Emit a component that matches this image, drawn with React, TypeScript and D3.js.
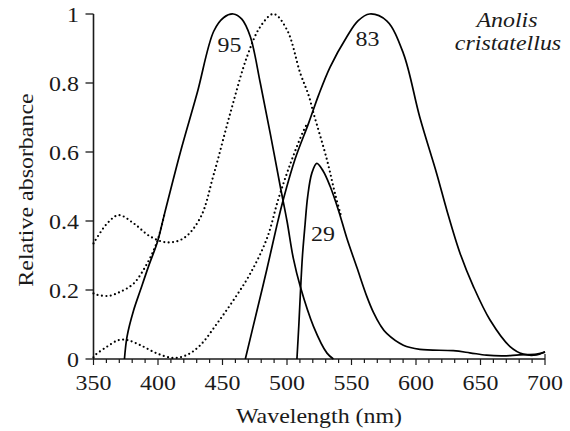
import React from "react";
import * as d3 from "d3";

// Wavelength (nm) / relative absorbance pairs
const curve95: [number, number][] = [
  [374, 0], [376, 0.065], [381, 0.14], [386.4, 0.2], [392.8, 0.27], [399.6, 0.34],
  [405, 0.42], [417.4, 0.6], [430.3, 0.77], [443.2, 0.95], [451, 0.99], [458.4, 1.0],
  [465, 0.985], [471.6, 0.934], [479.3, 0.8], [487, 0.654], [494.8, 0.5], [500, 0.4],
  [505, 0.29], [510.3, 0.21], [520.6, 0.094], [531, 0.017], [536, 0],
];
const curve83: [number, number][] = [
  [467.7, 0], [476.7, 0.14], [484.4, 0.26], [492.2, 0.388], [497.4, 0.466], [506.4, 0.581],
  [516.7, 0.683], [524.5, 0.765], [533.5, 0.847], [546.4, 0.934], [555, 0.98], [564, 1.0],
  [577.3, 0.98], [590.2, 0.886], [603, 0.7], [616, 0.538], [624, 0.43], [634.2, 0.306],
  [644.5, 0.21], [657.4, 0.113], [672.9, 0.036], [683.2, 0.014], [693.5, 0.012], [700, 0.021],
];
const curve29: [number, number][] = [
  [507.7, 0], [509.2, 0.1], [510.5, 0.2], [512, 0.3], [514, 0.39], [516, 0.47],
  [519.2, 0.538], [523.1, 0.567], [528, 0.545], [533.5, 0.5], [540, 0.43], [546.4, 0.35],
  [554.2, 0.265], [562, 0.18], [567, 0.135], [572.2, 0.099], [577.3, 0.074], [590.2, 0.04],
  [603, 0.028], [628.8, 0.024], [641.7, 0.018], [654.6, 0.011], [667.5, 0.009],
  [680, 0.012], [693.5, 0.014], [700, 0.02],
];
const dottedA: [number, number][] = [
  [350, 0.335], [360.6, 0.393], [369.6, 0.417], [381.2, 0.393], [394, 0.355], [407, 0.338],
  [419.9, 0.35], [432.9, 0.41], [443.2, 0.535], [456, 0.712], [469, 0.876], [479.3, 0.963],
  [489.6, 1.0], [500, 0.954], [510.3, 0.828], [516.7, 0.765], [520.6, 0.712], [531, 0.577],
  [537.5, 0.475], [541.5, 0.42],
];
const dottedB: [number, number][] = [
  [350, 0.19], [352.8, 0.186], [361.9, 0.183], [370.9, 0.195], [381.2, 0.219],
  [391.6, 0.277], [399.3, 0.34], [405, 0.42],
];
const dottedC: [number, number][] = [
  [350, 0.005], [351.5, 0.012], [360.6, 0.036], [369.6, 0.055], [376, 0.055], [386.4, 0.04],
  [399.3, 0.016], [412.2, 0.003], [422.6, 0.012], [432.8, 0.04], [445.8, 0.103],
  [458.6, 0.171], [471.6, 0.248], [484.5, 0.35], [493.5, 0.466], [503, 0.57], [512, 0.655],
  [516, 0.685],
];

const xTicks = [350, 400, 450, 500, 550, 600, 650, 700];
const xMinorTicks = d3.range(350, 701, 10);
const yTicks = [0, 0.2, 0.4, 0.6, 0.8, 1];
const yTickLabels = ["0", "0.2", "0.4", "0.6", "0.8", "1"];

const curveLabels = ["95", "83", "29"];
const speciesLines = ["Anolis", "cristatellus"];

const FONT = "Liberation Serif, Tinos, Times New Roman, Times, serif";
const SX = 1.14;
const INK = "#1a1a1a";

export default function App() {
  const x = d3.scaleLinear().domain([350, 700]).range([93.5, 545]);
  const y = d3.scaleLinear().domain([0, 1]).range([359, 14]);
  const line = d3
    .line<[number, number]>()
    .x((d) => x(d[0]))
    .y((d) => y(d[1]))
    .curve(d3.curveCatmullRom.alpha(0.5));

  const solid = [curve95, curve83, curve29];
  const dotted = [dottedA, dottedB, dottedC];
  const labelPos = [
    [229.5, 51.5],
    [367.5, 45.5],
    [323, 240.5],
  ];
  const speciesPos = [
    [507, 27],
    [508, 50],
  ];

  return (
    <svg
      width={570}
      height={431}
      style={{ position: "absolute", left: 0, top: 0, display: "block", fontFamily: FONT }}
    >
      {/* axes */}
      <line x1={x(350)} x2={x(700)} y1={y(0)} y2={y(0)} stroke={INK} strokeWidth={1.6} />
      <line x1={x(350)} x2={x(350)} y1={y(0)} y2={y(1)} stroke={INK} strokeWidth={1.6} />
      {xMinorTicks.map((t) => {
        const major = t % 50 === 0;
        return (
          <line
            key={"xt" + t}
            x1={x(t)}
            x2={x(t)}
            y1={t === 700 ? y(0) - 5 : y(0)}
            y2={y(0) + (major ? 6 : 4)}
            stroke={INK}
            strokeWidth={1.2}
          />
        );
      })}
      {yTicks.map((t) => (
        <line key={"yt" + t} x1={x(350) - 8} x2={x(350)} y1={y(t)} y2={y(t)} stroke={INK} strokeWidth={1.3} />
      ))}
      {xTicks.map((t) => (
        <text
          key={"xl" + t}
          transform={`translate(${x(t)},390) scale(${SX},1)`}
          textAnchor="middle"
          fontSize={21}
          fill={INK}
        >
          {t}
        </text>
      ))}
      {yTicks.map((t, i) => (
        <text
          key={"yl" + t}
          transform={`translate(79,${y(t) + 7.5}) scale(${SX},1)`}
          textAnchor="end"
          fontSize={21}
          fill={INK}
        >
          {yTickLabels[i]}
        </text>
      ))}
      <text transform={`translate(319,423) scale(${SX},1)`} textAnchor="middle" fontSize={21} fill={INK}>
        Wavelength (nm)
      </text>
      <text
        transform={`translate(33,190) rotate(-90) scale(${SX},1)`}
        textAnchor="middle"
        fontSize={21}
        fill={INK}
      >
        Relative absorbance
      </text>

      {/* curves */}
      {dotted.map((d, i) => (
        <path
          key={"d" + i}
          d={line(d) || ""}
          fill="none"
          stroke="#000"
          strokeWidth={2.2}
          strokeLinecap="round"
          strokeDasharray="0,4.4"
        />
      ))}
      {solid.map((d, i) => (
        <path key={"s" + i} d={line(d) || ""} fill="none" stroke="#000" strokeWidth={1.7} />
      ))}

      {curveLabels.map((l, i) => (
        <text
          key={"lab" + i}
          transform={`translate(${labelPos[i][0]},${labelPos[i][1]}) scale(${SX},1)`}
          textAnchor="middle"
          fontSize={21}
          fill={INK}
        >
          {l}
        </text>
      ))}
      {speciesLines.map((s, i) => (
        <text
          key={"sp" + i}
          transform={`translate(${speciesPos[i][0]},${speciesPos[i][1]}) scale(${SX},1)`}
          textAnchor="middle"
          fontSize={21}
          fontStyle="italic"
          fill={INK}
        >
          {s}
        </text>
      ))}
    </svg>
  );
}
